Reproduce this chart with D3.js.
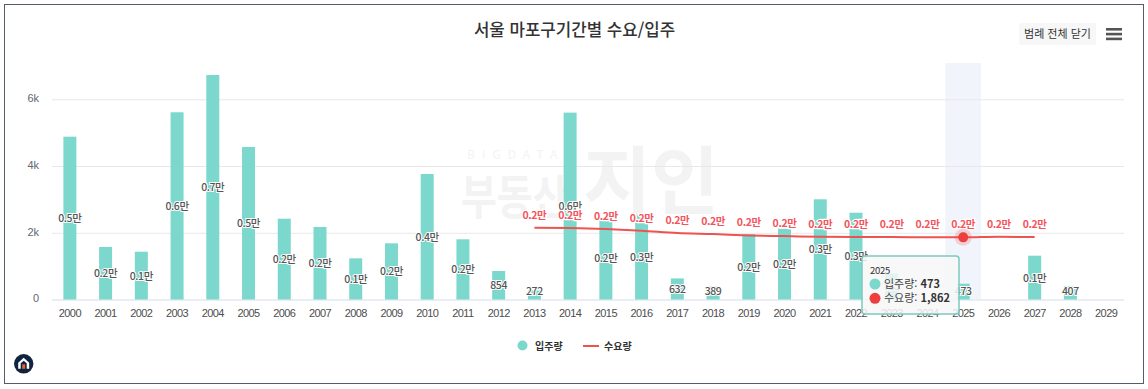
<!DOCTYPE html>
<html lang="ko">
<head>
<meta charset="utf-8">
<title>서울 마포구기간별 수요/입주</title>
<script src="https://cdn.jsdelivr.net/npm/d3@7"></script>
<style>
  html, body { margin: 0; padding: 0; background: #fff; }
  svg { display: block; font-family: "Noto Sans CJK KR", "Noto Sans", sans-serif; }
</style>
</head>
<body>
<div id="chart"></div>
<script>
// data
const years = d3.range(2000, 2030).map(String);
const supply = [4879, 1573, 1432, 5610, 6727, 4570, 2421, 2173, 1234, 1684, 3761, 1804, 854, 272, 5600,
                2470, 2540, 632, 389, 1960, 2120, 3003, 2601, 785, 0, 473, 0, 1313, 407, 0];
const demandYears = d3.range(2013, 2028).map(String);
const demand = [2150, 2140, 2110, 2060, 1990, 1960, 1920, 1900, 1880, 1870, 1870, 1865, 1862, 1880, 1870];
const yTicks = [0, 2000, 4000, 6000];
const legendNames = ["입주량", "수요량"];
const activeYear = "2025";

const width = 1148, height = 389;
const margin = {top: 63, right: 24, bottom: 89.5, left: 52};

const svg = d3.select("#chart").append("svg")
    .attr("width", width)
    .attr("height", height);

// frame
svg.append("rect")
    .attr("x", 4.5).attr("y", 4.5)
    .attr("width", 1139).attr("height", 379)
    .attr("fill", "#fff")
    .attr("stroke", "#555d6b");

const x = d3.scaleBand()
    .domain(years)
    .range([margin.left, width - margin.right]);

const y = d3.scaleLinear()
    .domain([0, 7087])
    .range([height - margin.bottom, margin.top]);

// watermark
const mark = svg.append("g").attr("fill", "#f3f3f3");
mark.append("text")
    .attr("transform", "translate(461,214) scale(1,1.2)")
    .attr("font-size", 39).attr("font-weight", 700)
    .text("부동산");
mark.append("text")
    .attr("x", 583).attr("y", 208)
    .attr("font-size", 74).attr("font-weight", 700)
    .text("지인");
mark.append("text")
    .attr("x", 467).attr("y", 159)
    .attr("font-size", 12).attr("letter-spacing", 7)
    .text("BIGDATA");

// highlighted band behind the marks
svg.append("rect")
    .attr("x", x(activeYear))
    .attr("y", margin.top)
    .attr("width", x.bandwidth())
    .attr("height", y(0) - margin.top)
    .attr("fill", "#f1f4fa");

// y axis, grid
const yAxis = svg.append("g")
    .attr("transform", `translate(${margin.left},0)`)
    .call(d3.axisLeft(y)
        .tickValues(yTicks)
        .tickSize(-(width - margin.left - margin.right))
        .tickPadding(13)
        .tickFormat(d => d === 0 ? "0" : d / 1000 + "k"));
yAxis.select(".domain").remove();
yAxis.selectAll("line")
    .attr("stroke", d => d === 0 ? "#e3e7f3" : "#e8e8e8")
    .attr("stroke-width", d => d === 0 ? 1.5 : 1);
yAxis.selectAll("text").attr("fill", "#5f6670").attr("font-size", 11).attr("dy", "0.22em");

// x axis
const xAxis = svg.append("g")
    .attr("transform", `translate(0,${y(0)})`)
    .call(d3.axisBottom(x).tickSize(0).tickPadding(10));
xAxis.select(".domain").remove();
xAxis.selectAll("text")
    .attr("fill", "#4d4d4d").attr("font-size", 11).attr("letter-spacing", -0.6);

// bars
const barW = 13;
const supplyData = years.map((d, i) => ({year: d, value: supply[i]})).filter(d => d.value > 0);
svg.append("g").selectAll("rect")
    .data(supplyData)
    .join("rect")
      .attr("x", d => x(d.year) + x.bandwidth() / 2 - barW / 2)
      .attr("y", d => y(d.value))
      .attr("width", barW)
      .attr("height", d => y(0) - y(d.value))
      .attr("fill", "#7cd8cd");

// demand line
const cx = d => x(d) + x.bandwidth() / 2;
const line = d3.line()
    .x(d => cx(d.year))
    .y(d => y(d.value))
    .curve(d3.curveMonotoneX);
const demandData = demandYears.map((d, i) => ({year: d, value: demand[i]}));
svg.append("path")
    .datum(demandData)
    .attr("fill", "none")
    .attr("stroke", "#ee5350")
    .attr("stroke-width", 2)
    .attr("d", line);

// value labels, short bars keep theirs above the axis
const fmt = v => v >= 1000 ? (v / 10000).toFixed(1) + "만" : String(v);
svg.append("g").selectAll("text")
    .data(supplyData)
    .join("text")
      .attr("x", d => cx(d.year))
      .attr("y", d => Math.min((y(d.value) + y(0)) / 2 + 4, 295))
      .attr("text-anchor", "middle")
      .attr("font-size", 10.5)
      .attr("font-weight", 500)
      .attr("letter-spacing", -0.4)
      .attr("fill", "#555")
      .attr("stroke", "#fff").attr("stroke-width", 2)
      .attr("paint-order", "stroke")
      .text(d => fmt(d.value));
svg.append("g").selectAll("text")
    .data(demandData)
    .join("text")
      .attr("x", d => cx(d.year))
      .attr("y", d => y(d.value) - 9)
      .attr("text-anchor", "middle")
      .attr("font-size", 10.5)
      .attr("font-weight", 700)
      .attr("letter-spacing", -0.4)
      .attr("fill", "#f4535c")
      .attr("stroke", "#fff").attr("stroke-width", 2.5)
      .attr("paint-order", "stroke")
      .text(d => fmt(d.value));

// hover marker
const active = demandData.find(d => d.year === activeYear);
svg.append("circle")
    .attr("cx", cx(active.year)).attr("cy", y(active.value)).attr("r", 8.5)
    .attr("fill", "#ee3f3f").attr("opacity", 0.2);
svg.append("circle")
    .attr("cx", cx(active.year)).attr("cy", y(active.value)).attr("r", 5)
    .attr("fill", "#ee3f3f");

// tooltip
const activeSupply = supply[years.indexOf(activeYear)];
const tip = svg.append("g").attr("transform", "translate(862,256)");
tip.append("rect")
    .attr("width", 97).attr("height", 58).attr("rx", 3)
    .attr("fill", "#f7f7f7").attr("fill-opacity", 0.85)
    .attr("stroke", "#7dc9bf").attr("stroke-width", 1.5);
tip.append("text").attr("x", 8).attr("y", 17.5)
    .attr("font-size", 9.5).attr("fill", "#333").attr("letter-spacing", -0.3).text(activeYear);
[[legendNames[0], activeSupply, "#7cd8cd"], [legendNames[1], active.value, "#ee3f3f"]].forEach((r, i) => {
  const ry = 28 + i * 14.3;
  tip.append("circle").attr("cx", 13).attr("cy", ry).attr("r", 5.5).attr("fill", r[2]);
  const t = tip.append("text").attr("x", 22).attr("y", ry + 4)
      .attr("font-size", 11).attr("fill", "#444");
  t.append("tspan").text(r[0] + ": ");
  t.append("tspan").attr("font-weight", 700).attr("fill", "#333").text(d3.format(",")(r[1]));
});

// title and controls
svg.append("text")
    .attr("x", 574.5).attr("y", 36)
    .attr("text-anchor", "middle")
    .attr("font-size", 16.8).attr("font-weight", 500)
    .attr("fill", "#333")
    .text("서울 마포구기간별 수요/입주");
svg.append("rect")
    .attr("x", 1019).attr("y", 23).attr("width", 77).attr("height", 22).attr("rx", 2)
    .attr("fill", "#f7f7f7");
svg.append("text")
    .attr("x", 1057.5).attr("y", 38)
    .attr("text-anchor", "middle")
    .attr("font-size", 11).attr("fill", "#333")
    .text("범례 전체 닫기");
svg.append("g").selectAll("rect")
    .data([0, 1, 2])
    .join("rect")
      .attr("x", 1106).attr("y", d => 28 + d * 4.8)
      .attr("width", 16).attr("height", 2.6)
      .attr("fill", "#555");

// legend
svg.append("circle").attr("cx", 522.5).attr("cy", 345.5).attr("r", 5).attr("fill", "#7cd8cd");
svg.append("text").attr("x", 535).attr("y", 349.5)
    .attr("font-size", 10).attr("font-weight", 700).attr("fill", "#333").text(legendNames[0]);
svg.append("line").attr("x1", 583).attr("x2", 599).attr("y1", 346).attr("y2", 346)
    .attr("stroke", "#ee5350").attr("stroke-width", 2);
svg.append("text").attr("x", 604).attr("y", 349.5)
    .attr("font-size", 10).attr("font-weight", 700).attr("fill", "#333").text(legendNames[1]);

// logo
const logo = svg.append("g").attr("transform", "translate(23.7,363.8)");
logo.append("circle").attr("r", 9.7).attr("fill", "#10233f");
logo.append("path").attr("d", "M-5.5,5 V-1 L0,-6 L5.5,-1 V5 H3 V-0.5 L0,-3 L-3,-0.5 V5 Z").attr("fill", "#fff");
logo.append("rect").attr("x", -1.5).attr("y", 0.5).attr("width", 3).attr("height", 4.5).attr("fill", "#e2622b");
</script>
</body>
</html>
